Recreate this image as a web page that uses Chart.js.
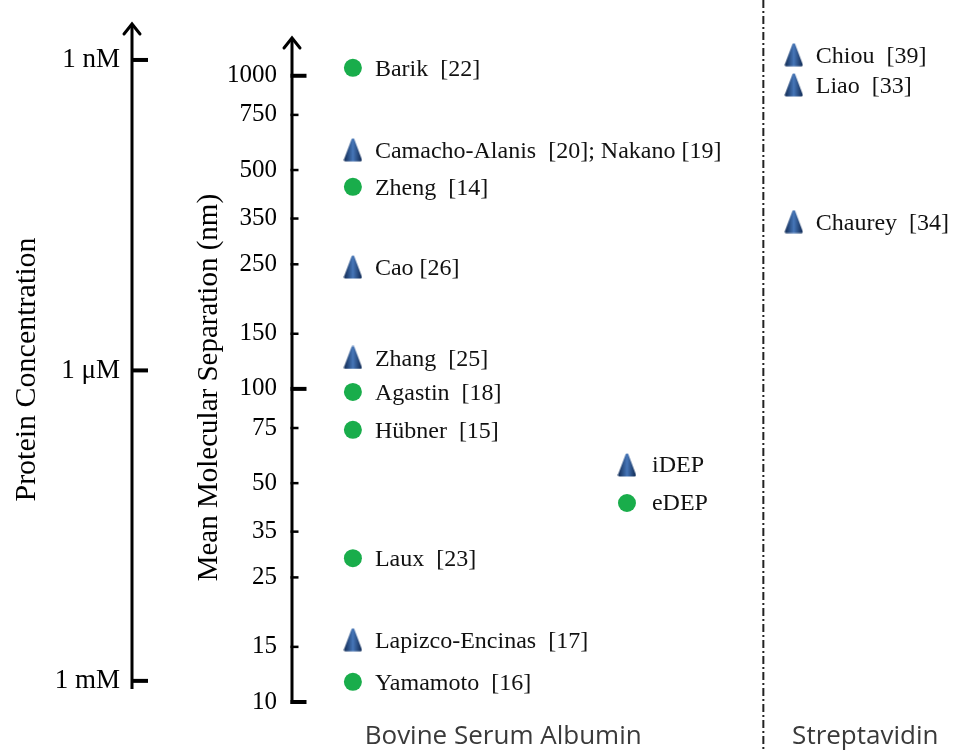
<!DOCTYPE html>
<html>
<head>
<meta charset="utf-8">
<title>DEP protein separation</title>
<script src="https://cdn.jsdelivr.net/npm/chart.js@4.4.1/dist/chart.umd.min.js"></script>
<style>
  html, body { margin: 0; padding: 0; background: #fff; }
  #wrap { width: 954px; height: 752px; position: relative; }
</style>
</head>
<body>
<div id="wrap"><canvas id="chart"></canvas></div>
<script>
// categories (proteins) along the bottom
const proteins = ["Bovine Serum Albumin", "Streptavidin"];

// iDEP studies (triangles)
const idepLabels = ["Camacho-Alanis  [20]; Nakano [19]", "Cao [26]", "Zhang  [25]", "Lapizco-Encinas  [17]",
                    "Chiou  [39]", "Liao  [33]", "Chaurey  [34]"];
const idepProtein = [0, 0, 0, 0, 1, 1, 1];
const idepSep = [580, 245, 126, 15.8, 1167, 935, 342];

// eDEP studies (circles)
const edepLabels = ["Barik  [22]", "Zheng  [14]", "Agastin  [18]", "Hübner  [15]", "Laux  [23]", "Yamamoto  [16]"];
const edepProtein = [0, 0, 0, 0, 0, 0];
const edepSep = [1060, 442, 97.8, 74, 28.8, 11.6];

// axis ticks
const sepTicks = [10, 15, 25, 35, 50, 75, 100, 150, 250, 350, 500, 750, 1000];
const sepMajor = [10, 100, 1000];
const concTicks = [1e-9, 1e-6, 1e-3];
const concTickLabels = ["1 nM", "1 \u03bcM", "1 mM"];

// layout (x units of the hidden horizontal scale)
const columnX = [0.92, 7.58];
const labelX = [3.19, 8.66];
const dividerX = 7.12;
const legendX = 5.06;

const SERIF = "'Liberation Serif', 'Times New Roman', serif";
const GREEN = "#19ad4b";

function makeTriangle(w, h) {
  const c = document.createElement("canvas");
  c.width = w + 4; c.height = h + 4;
  const g = c.getContext("2d");
  const grad = g.createLinearGradient(2, 0, w + 2, 0);
  grad.addColorStop(0, "#183562");
  grad.addColorStop(0.5, "#4676b8");
  grad.addColorStop(1, "#183562");
  g.fillStyle = grad; g.strokeStyle = grad;
  g.lineJoin = "round"; g.lineWidth = 3;
  g.beginPath();
  g.moveTo(c.width / 2, 2);
  g.lineTo(w + 2, h + 2);
  g.lineTo(2, h + 2);
  g.closePath();
  g.fill(); g.stroke();
  return c;
}
const tri = makeTriangle(15, 20);

const pointsOf = (prot, sep) => sep.map((v, i) => ({ x: columnX[prot[i]], y: v }));

// axis lines, arrows, ticks, divider, point labels, legend
const decor = {
  id: "decor",
  afterDraw(chart) {
    const { ctx, chartArea: ca, scales } = chart;
    const ys = scales.y, yc = scales.yc, xs = scales.x;
    ctx.save();
    ctx.strokeStyle = "#000"; ctx.fillStyle = "#000";

    function axis(x, top, bottom) {
      ctx.lineWidth = 3; ctx.lineCap = "butt";
      ctx.beginPath(); ctx.moveTo(x, bottom); ctx.lineTo(x, top + 1); ctx.stroke();
      ctx.lineCap = "round";
      ctx.beginPath();
      ctx.moveTo(x - 8, top + 11); ctx.lineTo(x, top + 1); ctx.lineTo(x + 8, top + 11);
      ctx.stroke();
    }
    function tick(x, y, major) {
      ctx.lineCap = "butt";
      ctx.lineWidth = major ? 4 : 2.5;
      ctx.beginPath(); ctx.moveTo(x, y); ctx.lineTo(x + (major ? 16 : 8), y); ctx.stroke();
    }

    // protein concentration axis
    const cx = yc.right;
    axis(cx, ca.top - 14, yc.getPixelForValue(concTicks[2]) + 8);
    concTicks.forEach(v => tick(cx, yc.getPixelForValue(v), true));

    // separation axis
    const sx = ys.right;
    axis(sx, ca.top, ys.getPixelForValue(sepTicks[0]) + 2);
    sepTicks.forEach(v => tick(sx - 1.5, ys.getPixelForValue(v), sepMajor.includes(v)));

    // divider between proteins
    const dx = xs.getPixelForValue(dividerX);
    ctx.lineWidth = 2; ctx.strokeStyle = "#222";
    ctx.setLineDash([8, 3, 2, 3]);
    ctx.beginPath(); ctx.moveTo(dx, 0); ctx.lineTo(dx, chart.height); ctx.stroke();
    ctx.setLineDash([]);

    // point labels
    ctx.font = "24px " + SERIF; ctx.fillStyle = "#111";
    ctx.textAlign = "left"; ctx.textBaseline = "middle";
    const lbls = [idepLabels, edepLabels];
    chart.data.datasets.forEach((ds, di) => {
      chart.getDatasetMeta(di).data.forEach((el, i) => {
        ctx.fillText(lbls[di][i], el.x + 22, el.y + 2);
      });
    });

    // legend
    const lx = xs.getPixelForValue(legendX);
    const ly1 = ca.top + 428, ly2 = ca.top + 466;
    ctx.drawImage(tri, lx - tri.width / 2, ly1 - tri.height / 2);
    ctx.fillStyle = GREEN;
    ctx.beginPath(); ctx.arc(lx, ly2, 9, 0, Math.PI * 2); ctx.fill();
    ctx.fillStyle = "#111";
    ctx.fillText(chart.data.datasets[0].label, lx + 25, ly1 + 1);
    ctx.fillText(chart.data.datasets[1].label, lx + 25, ly2 + 1);
    ctx.restore();
  }
};

new Chart(document.getElementById("chart"), {
  type: "scatter",
  data: {
    datasets: [
      { label: "iDEP", data: pointsOf(idepProtein, idepSep), pointStyle: tri, pointRadius: 10 },
      { label: "eDEP", data: pointsOf(edepProtein, edepSep), pointStyle: "circle", pointRadius: 9,
        backgroundColor: GREEN, borderWidth: 0 }
    ]
  },
  options: {
    responsive: true,
    maintainAspectRatio: false,
    animation: false,
    layout: { autoPadding: false, padding: { top: 37, right: 0, left: 0, bottom: 0 } },
    plugins: { legend: { display: false }, tooltip: { enabled: false } },
    elements: { point: { hoverRadius: 0 } },
    scales: {
      x: {
        type: "linear", position: "bottom", min: 0, max: 10,
        grid: { display: false }, border: { display: false },
        afterBuildTicks: s => { s.ticks = labelX.map(v => ({ value: v })); },
        afterFit: s => { s.height = 50; s.paddingLeft = 0; s.paddingRight = 0; },
        ticks: {
          autoSkip: false, maxRotation: 0, padding: 11, color: "#3a3a3a",
          font: { family: "'Open Sans', sans-serif", size: 26 },
          callback: (v, i) => proteins[i]
        }
      },
      y: {
        type: "logarithmic", position: "left", weight: 1, min: 10, max: 1330,
        grid: { display: false, drawTicks: false }, border: { display: false },
        afterBuildTicks: s => { s.ticks = sepTicks.map(v => ({ value: v })); },
        afterFit: s => { s.width = 160; },
        ticks: {
          autoSkip: false, padding: 15, color: "#000",
          font: { family: SERIF, size: 25 },
          callback: v => String(v)
        },
        title: {
          // trailing no-break spaces nudge the rotated title down a little
          display: true, text: "Mean Molecular Separation (nm)\u00a0\u00a0\u00a0\u00a0\u00a0", color: "#000",
          font: { family: SERIF, size: 29 }, padding: { top: 60, bottom: 0 }
        }
      },
      yc: {
        type: "logarithmic", position: "left", weight: 2, reverse: true,
        min: 6.0e-10, max: 1.6e-3,
        grid: { display: false, drawTicks: false }, border: { display: false },
        afterBuildTicks: s => { s.ticks = concTicks.map(v => ({ value: v })); },
        afterFit: s => { s.width = 132; },
        ticks: {
          autoSkip: false, padding: 12, color: "#000",
          font: { family: SERIF, size: 27 },
          callback: (v, i) => concTickLabels[i]
        },
        title: {
          display: true, text: "Protein Concentration", color: "#000",
          font: { family: SERIF, size: 30 }, padding: { top: 9, bottom: 0 }
        }
      }
    }
  },
  plugins: [decor]
});
</script>
</body>
</html>
